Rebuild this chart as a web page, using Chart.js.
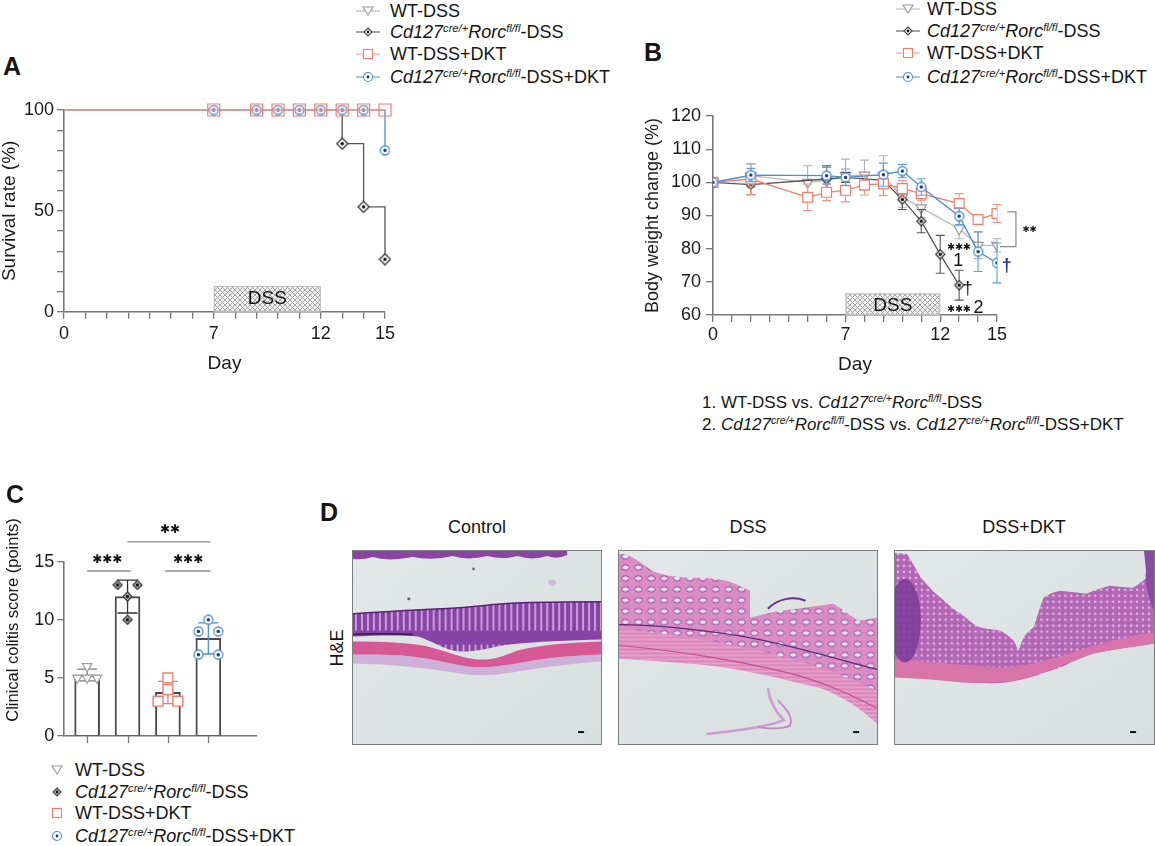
<!DOCTYPE html>
<html lang="en">
<head>
<meta charset="utf-8">
<title>Figure</title>
<script src="https://cdn.jsdelivr.net/npm/chart.js@4.4.1/dist/chart.umd.min.js"></script>
<style>
html,body{margin:0;padding:0;background:#fff}
#fig{position:relative;width:1155px;height:846px;overflow:hidden;font-family:'Liberation Sans',Arial,Helvetica,sans-serif;color:#151515}
#fig canvas{position:absolute}
.t{position:absolute;white-space:nowrap;line-height:1}
.pl{font-weight:bold;font-size:25px;transform:translate(-50%,-50%)}
.row{position:absolute;display:flex;align-items:center;height:22px;white-space:nowrap;font-size:18px;line-height:1;transform:translateY(-50%)}
.row svg{flex:none}
.sup{font-size:0.62em;position:relative;top:-0.55em}
.rot{transform:translate(-50%,-50%) rotate(-90deg)}
.ctr{transform:translate(-50%,-50%)}
.histo{position:absolute;border:1px solid #7d7d7d;box-sizing:border-box}
</style>
</head>
<body>
<div id="fig">
  <svg width="0" height="0" style="position:absolute">
    <defs>
      <linearGradient id="bg" x1="0" y1="0" x2="1" y2="1"><stop offset="0" stop-color="#e2e8e7"/><stop offset="1" stop-color="#d8dfde"/></linearGradient>
      <pattern id="crypt" width="6" height="44" patternUnits="userSpaceOnUse"><rect width="6" height="44" fill="#8743a5"/><path d="M3,6 V36" stroke="#d9bde8" stroke-width="1.5"/></pattern>
      <pattern id="gland" width="13" height="11" patternUnits="userSpaceOnUse"><rect width="13" height="11" fill="#d98dc4"/><ellipse cx="6.5" cy="5.5" rx="3.8" ry="2.6" fill="#f3e0ee" stroke="#8b3fa0" stroke-width="1"/></pattern>
      <pattern id="muscle" width="8" height="4" patternUnits="userSpaceOnUse"><rect width="8" height="4" fill="#dc86bb"/><path d="M0,1 H8" stroke="#ecbad9" stroke-width="1"/></pattern>
      <pattern id="dense" width="6" height="6" patternUnits="userSpaceOnUse"><rect width="6" height="6" fill="#b266b5"/><circle cx="3" cy="3" r="1.3" fill="#e0b6dc"/></pattern>
    </defs>
  </svg>

  <canvas id="cA" width="400" height="290" style="left:0;top:95px"></canvas>
  <canvas id="cB" width="420" height="290" style="left:630px;top:95px"></canvas>
  <canvas id="cC" width="265" height="245" style="left:0;top:505px"></canvas>

  <div class="t pl" style="left:12px;top:66px">A</div>
  <div class="t pl" style="left:653px;top:52px">B</div>
  <div class="t pl" style="left:15px;top:494px">C</div>
  <div class="t pl" style="left:329px;top:512px">D</div>

  <div id="legA"></div>
  <div id="legB"></div>
  <div id="legC"></div>

  <div class="t" style="left:702px;top:402px;font-size:17px;transform:translateY(-50%)">1. WT-DSS vs. <i>Cd127</i><i class="sup">cre/+</i><i>Rorc</i><i class="sup">fl/fl</i>-DSS</div>
  <div class="t" style="left:702px;top:424px;font-size:17px;transform:translateY(-50%)">2. <i>Cd127</i><i class="sup">cre/+</i><i>Rorc</i><i class="sup">fl/fl</i>-DSS vs. <i>Cd127</i><i class="sup">cre/+</i><i>Rorc</i><i class="sup">fl/fl</i>-DSS+DKT</div>

  <div class="t rot" style="left:12px;top:620px;font-size:16.5px">Clinical colitis score (points)</div>

  <div class="t rot" style="left:337px;top:648px;font-size:18px">H&amp;E</div>
  <div class="t ctr" style="left:477px;top:527px;font-size:18px">Control</div>
  <div class="t ctr" style="left:748px;top:527px;font-size:18px">DSS</div>
  <div class="t ctr" style="left:1024px;top:527px;font-size:18px">DSS+DKT</div>

  <!-- Control -->
  <svg class="histo" style="left:352px;top:550px" width="250" height="195" viewBox="0 0 249 194" preserveAspectRatio="none">
    <rect width="249" height="194" fill="url(#bg)"/>
    <path d="M0,0 H215 V4 Q205,9 195,5 Q180,10 165,5 Q150,9 135,5 Q115,10 100,5 Q80,10 60,6 Q35,11 20,6 Q10,9 0,8 Z" fill="#8a45a4"/>
    <path d="M0,104 C15,104 30,104 50,105 C75,107 95,113 115,116 C130,118 150,116 170,112 C195,107 220,105 249,104 L249,111 C220,113 190,117 165,121 C140,126 120,126 100,122 C70,117 40,114 0,113 Z" fill="#cdb1d8"/>
    <path d="M0,91 C30,91 55,92 75,96 C95,101 110,108 125,109 C140,110 150,106 165,100 C190,94 220,92 249,91 L249,104 C220,105 195,107 170,112 C150,116 130,118 115,116 C95,113 75,107 50,105 C30,104 15,104 0,104 Z" fill="#d65896"/>
    <path d="M0,63 C30,61 60,59 90,58 C120,57 140,53 170,52 C200,51 225,51 249,51 L249,89 C215,90 180,91 150,95 C130,99 115,103 100,100 C88,97 78,90 65,86 C45,84 20,85 0,86 Z" fill="url(#crypt)"/>
    <path d="M0,63 C30,61 60,59 90,58 C120,57 140,53 170,52 C200,51 225,51 249,51" stroke="#5a2278" stroke-width="1.5" fill="none"/>
    <path d="M0,84 C20,83 40,83 60,84" stroke="#3d1656" stroke-width="1.5" fill="none"/>
    <circle cx="56" cy="48" r="1.6" fill="#7b4a9a"/><circle cx="121" cy="18" r="1.3" fill="#7b4a9a"/>
    <ellipse cx="200" cy="32" rx="4" ry="3" fill="#cdbbd8"/>
    <rect x="226" y="181" width="6" height="2" fill="#111"/>
  </svg>

  <!-- DSS -->
  <svg class="histo" style="left:618px;top:550px" width="260" height="195" viewBox="0 0 260 194" preserveAspectRatio="none">
    <rect width="260" height="194" fill="url(#bg)"/>
    <path d="M150,138 C152,152 158,162 166,170 C150,177 120,180 88,184" stroke="#cf9ad0" stroke-width="2.5" fill="none"/>
    <path d="M160,150 C170,160 176,168 172,176 C160,180 150,178 140,177" stroke="#c487c4" stroke-width="1.8" fill="none"/>
    <path d="M0,3 C10,2 20,10 34,20 C50,27 70,27 86,27 C100,28 110,30 117,33 L132,40 L132,67 C145,64 155,61 164,60 C180,58 200,55 216,53 C228,60 236,68 242,70 L260,67 L260,173 C250,165 245,160 242,157 C230,148 222,143 216,140 C200,136 190,133 164,127 C150,124 140,121 138,120 C110,116 90,114 86,113 C60,111 40,110 34,110 L0,108 Z" fill="url(#gland)"/>
    <path d="M0,78 C60,84 130,96 180,110 C220,122 245,134 260,140 L260,173 C245,160 225,145 200,137 C170,130 140,122 100,116 C60,112 30,110 0,108 Z" fill="url(#muscle)"/>
    <path d="M0,74 C40,74 80,79 120,85 C170,93 220,109 260,119" stroke="#5b2a7c" stroke-width="1.3" fill="none"/>
    <path d="M0,95 C60,100 130,112 180,125 C215,135 240,148 260,158" stroke="#c24f90" stroke-width="1.2" fill="none"/>
    <path d="M150,58 C160,48 175,45 188,50" stroke="#6b2f8c" stroke-width="2" fill="none"/>
    <rect x="236" y="181" width="6" height="2" fill="#111"/>
  </svg>

  <!-- DSS+DKT -->
  <svg class="histo" style="left:894px;top:550px" width="261" height="195" viewBox="0 0 260 194" preserveAspectRatio="none">
    <rect width="260" height="194" fill="url(#bg)"/>
    <path d="M0,2 L12,3 C18,12 22,20 26,27 C35,37 40,43 46,47 C55,55 60,60 66,63 C75,70 80,75 86,77 C95,79 100,79 106,80 C112,84 116,87 119,90 L124,100 L129,87 C133,82 136,79 139,77 C143,65 146,55 149,47 C155,43 160,41 166,40 C175,41 185,42 192,43 C200,40 210,36 216,35 C225,36 232,37 239,37 C245,33 250,30 252,27 L256,0 L260,0 L260,93 C250,95 240,96 232,97 C220,99 210,101 199,103 C185,108 175,113 166,117 C150,122 140,126 132,128 C120,131 110,133 99,133 C85,133 75,132 66,132 C50,130 40,129 32,128 L0,127 Z" fill="url(#dense)"/>
    <path d="M0,108 C40,112 80,116 110,117 C140,115 170,105 200,95 C225,88 245,84 260,82 L260,93 C240,96 215,100 199,103 C180,109 160,119 132,128 C110,133 85,133 66,132 C45,130 20,128 0,127 Z" fill="#d874aa"/>
    <ellipse cx="10" cy="70" rx="16" ry="42" fill="#7a3a98" opacity="0.85"/>
    <path d="M250,0 L260,0 L260,60 C255,50 250,30 252,20 Z" fill="#8c4aa6"/>
    <rect x="236" y="181" width="6" height="2" fill="#111"/>
  </svg>
</div>

<script>
// ---------------- DATA ----------------
const groupNames = ['WT-DSS', 'Cd127cre/+Rorcfl/fl-DSS', 'WT-DSS+DKT', 'Cd127cre/+Rorcfl/fl-DSS+DKT'];

// Panel A: survival (%)
const survDays   = [0, 7, 9, 10, 11, 12, 13, 14, 15];
const survWT     = [100, 100, 100, 100, 100, 100, 100, 100, 100];
const survKO     = [100, 100, 100, 100, 100, 100, 83.3, 52, 26];
const survWTDKT  = [100, 100, 100, 100, 100, 100, 100, 100, 100];
const survKODKT  = [100, 100, 100, 100, 100, 100, 100, 100, 80];
const survTicks  = [0, 50, 100];

// Panel B: body weight change (%), mean and SD
const bwDaysWT    = [0, 2, 5, 6, 7, 8, 9, 10, 11, 13, 14, 15];
const bwWT        = [100, 102, 100, 100.5, 102, 102.2, 102, 95.5, 92.3, 86, 81, 81];
const bwWTsd      = [0, 3.5, 5, 4, 5, 4.5, 6, 3, 3, 3, 4, 2];
const bwDaysKO    = [0, 2, 6, 7, 9, 10, 11, 12, 13];
const bwKO        = [100, 99.3, 101, 101.5, 100.6, 94.8, 88.3, 78.3, 69];
const bwKOsd      = [0, 3, 4, 1.5, 1.5, 3, 3.5, 5.7, 4.5];
const bwDaysWTDKT = [0, 2, 5, 6, 7, 8, 9, 10, 11, 13, 14, 15];
const bwWTDKT     = [100, 101, 95.5, 97, 97.6, 99.2, 99.6, 98.1, 96.6, 93.6, 88.8, 90.6];
const bwWTDKTsd   = [0, 4.7, 4, 2.5, 3.5, 3, 3.5, 2.5, 2, 3, 1, 2.7];
const bwDaysKODKT = [0, 2, 6, 7, 9, 10, 11, 13, 14, 15];
const bwKODKT     = [100, 102.2, 102, 101.5, 102.3, 103.4, 98.6, 89.8, 79.1, 75.7];
const bwKODKTsd   = [0, 2, 2.5, 2.5, 3.5, 2, 2.5, 2.5, 6, 6];
const bwTicks     = [60, 70, 80, 90, 100, 110, 120];

const dayTicks  = [0, 7, 12, 15];
const dssWindow = [7, 12];

// Panel C: clinical colitis score (points), individual animals
const scoreWT    = [6, 5, 5, 5];
const scoreKO    = [13, 13, 12, 10];
const scoreWTDKT = [5, 4, 3, 3];
const scoreKODKT = [10, 9, 9, 7, 7];
const scoreTicks = [0, 5, 10, 15];

// ---------------- STYLE ----------------
const FONT = "'Liberation Sans', Arial, Helvetica, sans-serif";
const COL = {wt: '#a9a9a9', ko: '#444444', wtd: '#f27d6e', kod: '#4a90cf', axis: '#777777', text: '#1a1a1a'};
Chart.defaults.font.family = FONT;
Chart.defaults.color = COL.text;

function pts(xs, ys) { return xs.map((x, i) => ({x: x, y: ys[i]})); }
function mean(a) { return a.reduce((s, v) => s + v, 0) / a.length; }
function sd(a) { const m = mean(a); return Math.sqrt(a.reduce((s, v) => s + (v - m) * (v - m), 0) / (a.length - 1)); }
function spread(vals, center, half) {
  const counts = {}, seen = {};
  vals.forEach(v => counts[v] = (counts[v] || 0) + 1);
  return vals.map(v => {
    const n = counts[v];
    const k = (seen[v] = (seen[v] || 0) + 1) - 1;
    const off = n === 1 ? 0 : (-half + 2 * half * k / (n - 1));
    return {x: center + off, y: v};
  });
}

function markerCanvas(size, draw) {
  const c = document.createElement('canvas');
  c.width = size; c.height = size;
  draw(c.getContext('2d'), size / 2);
  return c;
}
function diamondDot(size, fill) {
  return markerCanvas(size, (g, c) => {
    g.beginPath(); g.moveTo(c, 1); g.lineTo(2 * c - 1, c); g.lineTo(c, 2 * c - 1); g.lineTo(1, c); g.closePath();
    g.fillStyle = fill; g.fill(); g.lineWidth = 1.3; g.strokeStyle = '#3a3a3a'; g.stroke();
    g.beginPath(); g.arc(c, c, 1.7, 0, Math.PI * 2); g.fillStyle = '#111'; g.fill();
  });
}
function circleDot(size) {
  return markerCanvas(size, (g, c) => {
    g.beginPath(); g.arc(c, c, c - 1, 0, Math.PI * 2);
    g.fillStyle = '#fff'; g.fill(); g.lineWidth = 1.3; g.strokeStyle = COL.kod; g.stroke();
    g.beginPath(); g.arc(c, c, 1.7, 0, Math.PI * 2); g.fillStyle = '#1b2f6e'; g.fill();
  });
}
const dmA = diamondDot(13, '#fff'), dmB = diamondDot(11, '#fff'), dmC = diamondDot(11, '#bbb');
const ciA = circleDot(11), ciB = circleDot(11), ciC = circleDot(11);

function hatchPattern(ctx) {
  const c = document.createElement('canvas'); c.width = 5; c.height = 5;
  const g = c.getContext('2d');
  g.fillStyle = '#f1f1f1'; g.fillRect(0, 0, 5, 5);
  g.strokeStyle = '#9d9d9d'; g.lineWidth = 0.9;
  g.beginPath(); g.moveTo(0, 0); g.lineTo(5, 5); g.moveTo(5, 0); g.lineTo(0, 5); g.stroke();
  return ctx.createPattern(c, 'repeat');
}

// ---------------- PLUGINS ----------------
function drawErr(chart, i, when) {
  const ds = chart.data.datasets[i];
  if (!ds.errorBars || (ds.errorLayer || 'before') !== when) return;
  const meta = chart.getDatasetMeta(i);
  const ys = chart.scales[meta.yAxisID];
  const ctx = chart.ctx;
  ctx.save();
  ctx.lineWidth = ds.errorWidth || 1.1;
  meta.data.forEach((el, j) => {
    const e = ds.errorBars[j];
    if (!e) return;
    const v = ds.data[j].y;
    const t = ys.getPixelForValue(v + e), b = ys.getPixelForValue(v - e);
    const w = (ds.capWidth || 8) / 2, x = el.x;
    ctx.strokeStyle = Array.isArray(ds.errorColor) ? ds.errorColor[j] : (ds.errorColor || ds.borderColor);
    ctx.beginPath();
    ctx.moveTo(x, t); ctx.lineTo(x, b);
    ctx.moveTo(x - w, t); ctx.lineTo(x + w, t);
    ctx.moveTo(x - w, b); ctx.lineTo(x + w, b);
    ctx.stroke();
  });
  ctx.restore();
}
const errorBarPlugin = {
  id: 'errorBars',
  beforeDatasetDraw(chart, args) { drawErr(chart, args.index, 'before'); },
  afterDatasetDraw(chart, args) { drawErr(chart, args.index, 'after'); }
};
function dssPlugin(yLo, yHi, textDy) {
  return {
    id: 'dss',
    beforeDatasetsDraw(chart) {
      const {ctx, scales: {x, y}} = chart;
      const x0 = x.getPixelForValue(dssWindow[0]), x1 = x.getPixelForValue(dssWindow[1]);
      const y0 = y.getPixelForValue(yLo), y1 = y.getPixelForValue(yHi);
      ctx.save();
      ctx.fillStyle = hatchPattern(ctx);
      ctx.fillRect(x0, y1, x1 - x0, y0 - y1);
      ctx.strokeStyle = '#bdbdbd'; ctx.lineWidth = 1;
      ctx.strokeRect(x0 + 0.5, y1 + 0.5, x1 - x0 - 1, y0 - y1 - 1);
      ctx.fillStyle = '#111'; ctx.font = '19px ' + FONT;
      ctx.textAlign = 'center'; ctx.textBaseline = 'middle';
      ctx.fillText('DSS', (x0 + x1) / 2, (y0 + y1) / 2 + textDy);
      ctx.restore();
    }
  };
}
function txt(chart, s, xv, yv, font, color, align) {
  const {ctx, scales: {x, y}} = chart;
  ctx.save();
  ctx.font = font; ctx.fillStyle = color || '#111';
  ctx.textAlign = align || 'center'; ctx.textBaseline = 'middle';
  ctx.fillText(s, x.getPixelForValue(xv), y.getPixelForValue(yv));
  ctx.restore();
}
const STAR = "'DejaVu Sans', sans-serif";

// ---------------- PANEL A ----------------
function axisBase(extra) {
  return Object.assign({
    grid: {display: true, drawOnChartArea: false, drawTicks: true, tickLength: 7, color: COL.axis, lineWidth: 1.3},
    border: {display: true, color: COL.axis, width: 1.6}
  }, extra);
}
new Chart(document.getElementById('cA'), {
  type: 'line',
  data: {datasets: [
    {label: groupNames[0], data: pts(survDays, survWT), borderColor: '#bbbbbb', borderWidth: 1.3, stepped: 'before', pointRadius: 0, order: 4, clip: false},
    {label: groupNames[1], data: pts(survDays, survKO), borderColor: '#555555', borderWidth: 1.3, stepped: 'before', pointStyle: dmA,
      pointRadius: c => (c.raw && c.raw.y < 100) ? 5 : 0, order: 3, clip: false},
    {label: groupNames[3], data: pts(survDays, survKODKT), borderColor: COL.kod, borderWidth: 1.3, stepped: 'before', pointStyle: ciA,
      pointRadius: c => (c.raw && c.raw.x > 0) ? 5 : 0, order: 2, clip: false},
    {label: groupNames[2], data: pts(survDays, survWTDKT), borderColor: '#f5a59c', borderWidth: 1.6, stepped: 'before', pointStyle: 'rect',
      pointRadius: c => (c.raw && c.raw.x > 0) ? 8.5 : 0, pointBorderColor: COL.wtd, pointBackgroundColor: 'rgba(0,0,0,0)', pointBorderWidth: 1.2, order: 1, clip: false}
  ]},
  options: {
    responsive: false, animation: false, events: [],
    layout: {padding: {left: 0, top: 15, right: 13.5, bottom: 0}},
    plugins: {legend: {display: false}, tooltip: {enabled: false}},
    scales: {
      x: axisBase({type: 'linear', min: 0, max: 15,
        afterFit: s => { s.height = 73.3; },
        ticks: {stepSize: 1, autoSkip: false, maxRotation: 0, padding: 5, font: {size: 18}, color: COL.text,
          callback: v => dayTicks.includes(v) ? String(v) : ''},
        title: {display: true, text: 'Day', font: {size: 19, lineHeight: 1}, color: COL.text, padding: {top: 0, bottom: 12}}}),
      y: axisBase({type: 'linear', min: 0, max: 100,
        afterFit: s => { s.width = 64; },
        ticks: {stepSize: 10, autoSkip: false, padding: 3, font: {size: 18}, color: COL.text,
          callback: v => survTicks.includes(v) ? String(v) : ''},
        title: {display: true, text: 'Survival rate (%)', font: {size: 19, lineHeight: 1}, color: COL.text, padding: {top: 0, bottom: 0}}})
    }
  },
  plugins: [dssPlugin(0, 12.7, 0)]
});

// ---------------- PANEL B ----------------
const bNotes = {
  id: 'bNotes',
  afterDatasetsDraw(chart) {
    const {ctx, scales: {x, y}} = chart;
    txt(chart, '\u2731\u2731\u2731', 13.0, 80.4, '9.5px ' + STAR, '#111');
    txt(chart, '1', 12.96, 76.3, '18px ' + FONT, '#111');
    txt(chart, '\u2020', 13.45, 67.8, '18px ' + FONT, '#111');
    txt(chart, '\u2731\u2731\u2731', 13.0, 61.7, '9.5px ' + STAR, '#111');
    txt(chart, '2', 14.02, 62.2, '18px ' + FONT, '#111');
    txt(chart, '\u2020', 15.52, 74.9, 'bold 18px ' + FONT, '#1c3590');
    ctx.save();
    ctx.strokeStyle = '#8a8a8a'; ctx.lineWidth = 1.2;
    ctx.beginPath();
    ctx.moveTo(x.getPixelForValue(15.55), y.getPixelForValue(91.1));
    ctx.lineTo(x.getPixelForValue(16.0), y.getPixelForValue(91.1));
    ctx.lineTo(x.getPixelForValue(16.0), y.getPixelForValue(80.6));
    ctx.lineTo(x.getPixelForValue(15.16), y.getPixelForValue(80.6));
    ctx.stroke();
    ctx.restore();
    txt(chart, '\u2731\u2731', 16.72, 85.8, '8.5px ' + STAR, '#111');
  }
};
new Chart(document.getElementById('cB'), {
  type: 'line',
  data: {datasets: [
    {label: groupNames[3], data: pts(bwDaysKODKT, bwKODKT), errorBars: bwKODKTsd, errorColor: '#5da0da', capWidth: 9,
      borderColor: COL.kod, borderWidth: 1.3, pointStyle: ciB, pointRadius: 5, order: 1},
    {label: groupNames[2], data: pts(bwDaysWTDKT, bwWTDKT), errorBars: bwWTDKTsd, errorColor: '#f39588', capWidth: 9,
      borderColor: COL.wtd, borderWidth: 1.3, pointStyle: 'rect', pointRadius: 7, pointBorderColor: COL.wtd, pointBackgroundColor: '#fff', pointBorderWidth: 1.2, order: 2},
    {label: groupNames[1], data: pts(bwDaysKO, bwKO), errorBars: bwKOsd, errorColor: '#555', capWidth: 9,
      borderColor: '#555555', borderWidth: 1.3, pointStyle: dmB, pointRadius: 5, order: 3},
    {label: groupNames[0], data: pts(bwDaysWT, bwWT), errorBars: bwWTsd, errorColor: '#b3b3b3', capWidth: 9,
      borderColor: '#b8b8b8', borderWidth: 1.3, pointStyle: 'triangle', pointRotation: 180, pointRadius: 6, pointBorderColor: '#9a9a9a', pointBackgroundColor: '#fff', pointBorderWidth: 1.2, order: 4}
  ]},
  options: {
    responsive: false, animation: false, events: [],
    layout: {padding: {left: 0, top: 21, right: 53, bottom: 0}},
    plugins: {legend: {display: false}, tooltip: {enabled: false}},
    scales: {
      x: axisBase({type: 'linear', min: 0, max: 15,
        afterFit: s => { s.height = 70; },
        ticks: {stepSize: 1, autoSkip: false, maxRotation: 0, padding: 2, font: {size: 18}, color: COL.text,
          callback: v => dayTicks.includes(v) ? String(v) : ''},
        title: {display: true, text: 'Day', font: {size: 19, lineHeight: 1}, color: COL.text, padding: {top: 0, bottom: 10.5}}}),
      y: axisBase({type: 'linear', min: 60, max: 120,
        afterFit: s => { s.width = 83; },
        afterBuildTicks: s => { s.ticks = bwTicks.map(v => ({value: v})); },
        ticks: {autoSkip: false, padding: 5, font: {size: 18}, color: COL.text, callback: v => String(v)},
        title: {display: true, text: 'Body weight change (%)', font: {size: 18, lineHeight: 1}, color: COL.text, padding: {top: 14.5, bottom: 0}}})
    }
  },
  plugins: [dssPlugin(60, 66.5, 2), errorBarPlugin, bNotes]
});

// ---------------- PANEL C ----------------
const scoreSets = [scoreWT, scoreKO, scoreWTDKT, scoreKODKT];
const scoreMeans = scoreSets.map(mean);
const scoreSDs = scoreSets.map(sd);
const catIndex = scoreSets.map((_, i) => i);
const cNotes = {
  id: 'cNotes',
  afterDraw(chart) {
    const {ctx, scales: {x, y}} = chart;
    // category tick marks under the x axis
    ctx.save(); ctx.strokeStyle = COL.axis; ctx.lineWidth = 1.3;
    const y0 = y.getPixelForValue(0);
    catIndex.forEach(i => { const px = Math.round(x.getPixelForValue(i)) + 0.5; ctx.beginPath(); ctx.moveTo(px, y0); ctx.lineTo(px, y0 + 7); ctx.stroke(); });
    ctx.restore();
    const hl = (a, b, v) => {
      ctx.save(); ctx.strokeStyle = '#8a8a8a'; ctx.lineWidth = 1.3;
      ctx.beginPath(); ctx.moveTo(x.getPixelForValue(a), y.getPixelForValue(v)); ctx.lineTo(x.getPixelForValue(b), y.getPixelForValue(v)); ctx.stroke();
      ctx.restore();
    };
    hl(0, 1.08, 14.2); hl(1, 3.05, 16.7); hl(1.93, 3.05, 14.2);
    txt(chart, '\u2731\u2731\u2731', 0.5, 15.15, '12px ' + STAR, '#111');
    txt(chart, '\u2731\u2731', 2.05, 17.7, '12px ' + STAR, '#111');
    txt(chart, '\u2731\u2731\u2731', 2.5, 15.15, '12px ' + STAR, '#111');
  }
};
const jit = 0.245;
new Chart(document.getElementById('cC'), {
  type: 'bar',
  data: {datasets: [
    {label: 'mean', data: scoreMeans.map((m, i) => ({x: i, y: m})), errorBars: scoreSDs, errorLayer: 'after',
      errorColor: ['#7a7a7a', '#333333', COL.wtd, COL.kod], capWidth: 20, errorWidth: 1.3,
      backgroundColor: 'rgba(255,255,255,0)', borderColor: '#4a4a4a', borderWidth: 1.3, barThickness: 25, order: 2},
    {type: 'scatter', label: groupNames[0], data: spread(scoreWT, 0, jit), pointStyle: 'triangle', pointRotation: 180, pointRadius: 5.5,
      pointBorderColor: '#a0a0a0', pointBackgroundColor: '#fff', pointBorderWidth: 1.2, order: 1},
    {type: 'scatter', label: groupNames[1], data: spread(scoreKO, 1, jit), pointStyle: dmC, pointRadius: 5, order: 1},
    {type: 'scatter', label: groupNames[2], data: spread(scoreWTDKT, 2, jit), pointStyle: 'rect', pointRadius: 7,
      pointBorderColor: COL.wtd, pointBackgroundColor: '#fff', pointBorderWidth: 1.4, order: 1},
    {type: 'scatter', label: groupNames[3], data: spread(scoreKODKT, 3, jit), pointStyle: ciC, pointRadius: 5, order: 1}
  ]},
  options: {
    responsive: false, animation: false, events: [],
    layout: {padding: {left: 0, top: 56.7, right: 9, bottom: 0}},
    plugins: {legend: {display: false}, tooltip: {enabled: false}},
    scales: {
      x: {type: 'linear', min: -0.59, max: 4.18, offset: false,
        afterFit: s => { s.height = 14; },
        grid: {display: false, offset: false},
        border: {display: true, color: COL.axis, width: 1.6},
        ticks: {display: false}},
      y: axisBase({type: 'linear', min: 0, max: 15,
        afterFit: s => { s.width = 63.3; },
        afterBuildTicks: s => { s.ticks = scoreTicks.map(v => ({value: v})); },
        grid: {display: true, drawOnChartArea: false, drawTicks: true, tickLength: 6, color: COL.axis, lineWidth: 1.3},
        ticks: {autoSkip: false, padding: 3, font: {size: 18}, color: COL.text, callback: v => String(v)}})
    }
  },
  plugins: [errorBarPlugin, cNotes]
});

// ---------------- LEGENDS ----------------
const labelsHTML = [
  'WT-DSS',
  '<i>Cd127</i><i class="sup">cre/+</i><i>Rorc</i><i class="sup">fl/fl</i>-DSS',
  'WT-DSS+DKT',
  '<i>Cd127</i><i class="sup">cre/+</i><i>Rorc</i><i class="sup">fl/fl</i>-DSS+DKT'
];
function symbol(i, withLine) {
  const w = withLine ? 24 : 14, c = w / 2;
  const lineCols = ['#b5b5b5', '#555', '#f5a097', '#5b9bd5'];
  let s = '<svg width="' + w + '" height="14" viewBox="0 0 ' + w + ' 14">';
  if (withLine) s += '<line x1="0" y1="7" x2="' + w + '" y2="7" stroke="' + lineCols[i] + '" stroke-width="1.1"/>';
  if (i === 0) s += '<path d="M' + (c - 5) + ',3 L' + (c + 5) + ',3 L' + c + ',11 Z" fill="#fff" stroke="#9a9a9a" stroke-width="1.1"/>';
  if (i === 1) s += '<path d="M' + c + ',3 L' + (c + 4) + ',7 L' + c + ',11 L' + (c - 4) + ',7 Z" fill="' + (withLine ? '#fff' : '#bbb') + '" stroke="#444" stroke-width="1.1"/><circle cx="' + c + '" cy="7" r="1.4" fill="#111"/>';
  if (i === 2) s += '<rect x="' + (c - 4.5) + '" y="2.5" width="9" height="9" fill="#fff" stroke="' + COL.wtd + '" stroke-width="1.1"/>';
  if (i === 3) s += '<circle cx="' + c + '" cy="7" r="4.5" fill="#fff" stroke="' + COL.kod + '" stroke-width="1.1"/><circle cx="' + c + '" cy="7" r="1.4" fill="#1b2f6e"/>';
  return s + '</svg>';
}
function legend(id, left, ys, gap, withLine) {
  const box = document.getElementById(id);
  box.innerHTML = labelsHTML.map((h, i) =>
    '<div class="row" style="left:' + left + 'px;top:' + ys[i] + 'px">' + symbol(i, withLine) +
    '<span style="margin-left:' + gap + 'px">' + h + '</span></div>').join('');
}
legend('legA', 356, [11, 32, 54, 77], 10, true);
legend('legB', 896, [9, 31, 53, 77], 7, true);
legend('legC', 50, [770, 792, 813, 836], 11, false);
</script>
</body>
</html>
